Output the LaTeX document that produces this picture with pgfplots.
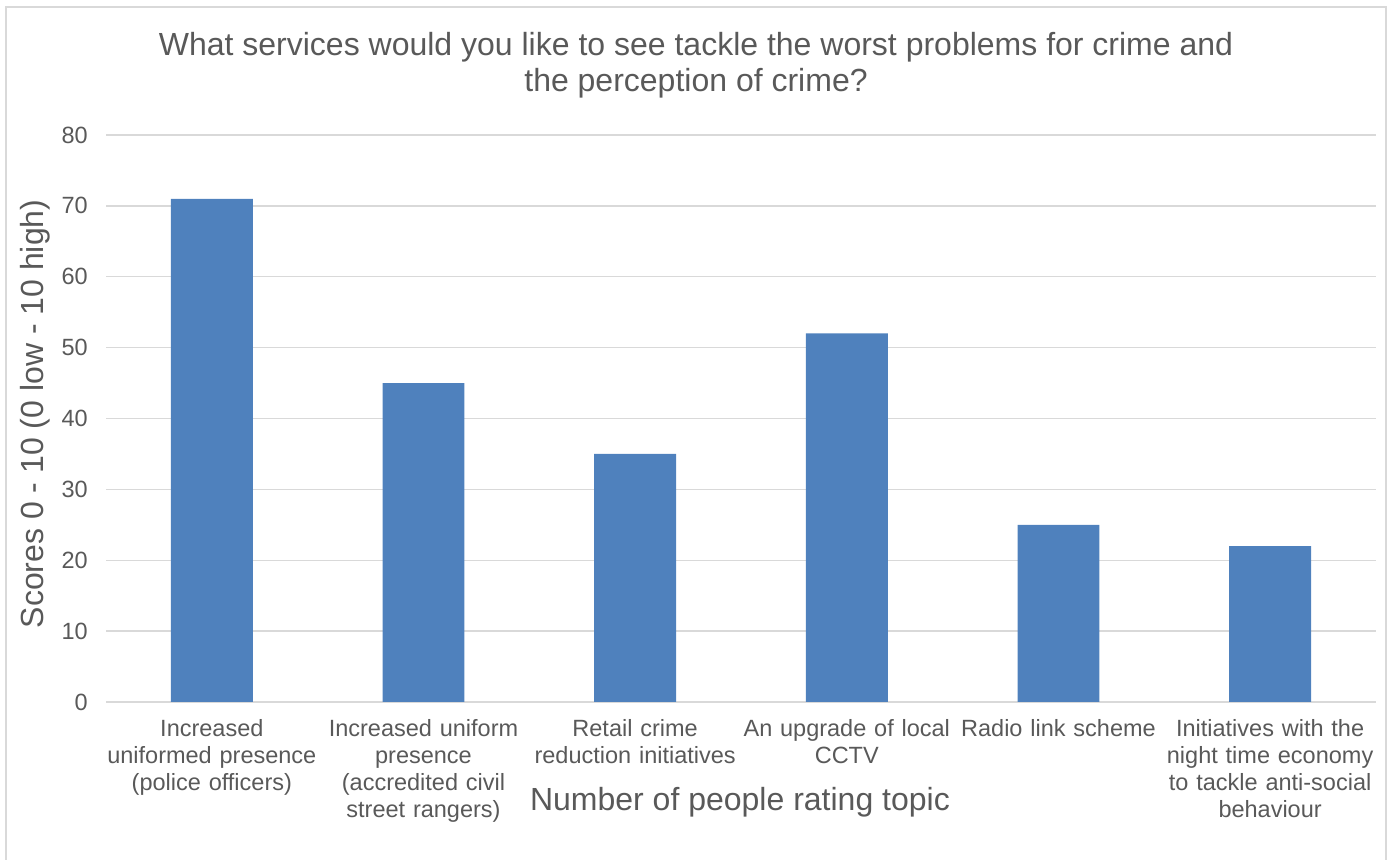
\documentclass[border=0pt]{standalone}
\usepackage{fontspec}
\setmainfont{Liberation Sans}
\usepackage{pgfplots}
\pgfplotsset{compat=1.18}
\definecolor{txtgray}{HTML}{595959}
\definecolor{gridgray}{HTML}{D9D9D9}
\definecolor{barblue}{HTML}{4F81BD}
\begin{document}
\begin{tikzpicture}[x=1pt,y=1pt]
\path[use as bounding box] (0,0) rectangle (1391,859);
% chart frame
\draw[gridgray, line width=1.5pt] (6,-5) -- (6,852) -- (1386,852) -- (1386,-5);
% title
\node[txtgray, anchor=base, font=\fontsize{32}{36}\selectfont, inner sep=0pt]
  at (696,803) {What services would you like to see tackle the worst problems for crime and};
\node[txtgray, anchor=base, font=\fontsize{32}{36}\selectfont, inner sep=0pt]
  at (696,767) {the perception of crime?};
\begin{axis}[
  at={(106pt,157pt)}, anchor=south west,
  scale only axis, width=1270pt, height=567pt,
  xmin=-0.5, xmax=5.5, ymin=0, ymax=80,
  ytick={0,10,...,80},
  ymajorgrids, grid style={gridgray, line width=1.3pt},
  axis lines*=left,
  y axis line style={draw=none},
  x axis line style={gridgray, line width=1.3pt},
  ytick style={draw=none},
  xtick={0,...,5},
  xtick style={draw=none},
  xticklabels={
    {Increased\\uniformed presence\\(police officers)},
    {Increased uniform\\presence\\(accredited civil\\street rangers)},
    {Retail crime\\reduction initiatives},
    {An upgrade of local\\CCTV},
    {Radio link scheme},
    {Initiatives with the\\night time economy\\to tackle anti-social\\behaviour}},
  extra x ticks={-0.5,0.5,...,5.5},
  extra x tick labels={},
  extra x tick style={xtick align=outside, major tick length=8pt,
    tick style={draw=gridgray, line width=1.3pt}},
  xticklabel style={font=\fontsize{23.5}{27}\selectfont, text=txtgray,
    align=center, text width=210pt, anchor=north, inner sep=0pt, yshift=-17pt},
  yticklabel style={font=\fontsize{23.5}{27}\selectfont, text=txtgray,
    anchor=east, inner sep=0pt, xshift=-18pt},
  /pgf/number format/assume math mode=true,
  xlabel={Number of people rating topic},
  xlabel style={at={(axis description cs:0.4992,-0.1905)}, anchor=base,
    font=\fontsize{32}{36}\selectfont, text=txtgray, inner sep=0pt},
  ylabel={Scores 0 - 10 (0 low - 10 high)},
  ylabel style={at={(axis description cs:-0.0496,0.508)}, anchor=base,
    font=\fontsize{32}{36}\selectfont, text=txtgray, inner sep=0pt},
]
\addplot[ybar, bar width=0.387, fill=barblue, draw=none]
  coordinates {(0,71) (1,45) (2,35) (3,52) (4,25) (5,22)};
\end{axis}
\end{tikzpicture}
\end{document}
